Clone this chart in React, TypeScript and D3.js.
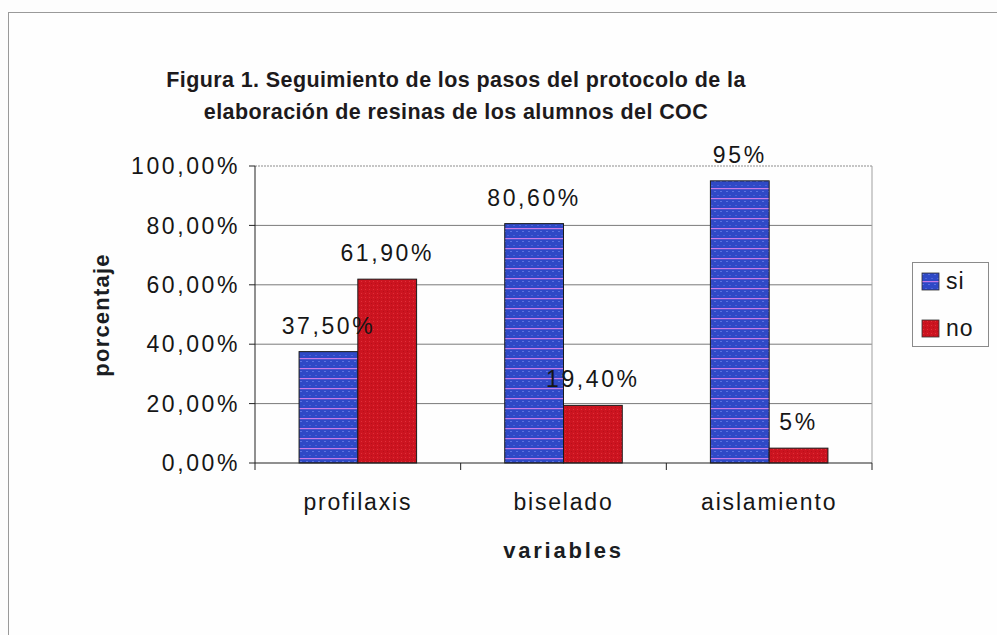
import React from 'react';
import * as d3 from 'd3';

// Chart data
const CATEGORIES = ['profilaxis', 'biselado', 'aislamiento'];
const SERIES = ['si', 'no'];
const SI_VALUES = [37.5, 80.6, 95];
const NO_VALUES = [61.9, 19.4, 5];
const SI_LABELS = ['37,50%', '80,60%', '95%'];
const NO_LABELS = ['61,90%', '19,40%', '5%'];
const Y_TICKS = [0, 20, 40, 60, 80, 100];

const TITLE_LINES = [
  'Figura 1. Seguimiento de los pasos del protocolo de la',
  'elaboración de resinas de los alumnos del COC'
];

const W = 997;
const H = 635;
const plot = { left: 255, right: 872, top: 166, bottom: 463 };

const FONT = '"Liberation Sans", Arial, sans-serif';
const TEXT = '#161616';

const App = () => {
  const x0 = d3.scaleBand()
    .domain(CATEGORIES)
    .range([plot.left, plot.right])
    .paddingInner(0)
    .paddingOuter(0);

  // Excel-like gap width of 150%: two bars + 1.5 bar widths of gap
  const barW = x0.bandwidth() / 3.5;
  const x1 = d3.scaleBand()
    .domain(SERIES)
    .range([barW * 0.75, barW * 2.75]);

  const y = d3.scaleLinear().domain([0, 100]).range([plot.bottom, plot.top]);

  const fmtTick = (d: number) => `${d.toFixed(2).replace('.', ',')}%`;

  const bars = CATEGORIES.flatMap((c, i) => [
    { cat: c, key: 'si', value: SI_VALUES[i], label: SI_LABELS[i] },
    { cat: c, key: 'no', value: NO_VALUES[i], label: NO_LABELS[i] }
  ]);

  const boundaries = [...CATEGORIES.map(c => x0(c) as number), plot.right];

  return (
    <div style={{ position: 'absolute', left: 0, top: 0 }}>
      <svg width={W} height={H} style={{ display: 'block', background: '#fdfdfd' }}>
        <defs>
          <pattern id="siFill" width="6" height="10" patternUnits="userSpaceOnUse">
            <rect width="6" height="10" fill="#2f49c6" />
            <rect x="0" y="1" width="2" height="1" fill="#5a72e0" />
            <rect x="3" y="5" width="2" height="1" fill="#4a62d8" />
            <rect x="0" y="8" width="6" height="1.2" fill="#c77be6" />
          </pattern>
          <pattern id="noFill" width="4" height="4" patternUnits="userSpaceOnUse">
            <rect width="4" height="4" fill="#cc1420" />
            <rect x="1" y="1" width="1" height="1" fill="#e0303a" />
            <rect x="3" y="3" width="1" height="1" fill="#b80f1a" />
          </pattern>
        </defs>

        {/* outer chart frame */}
        <rect x={8.5} y={12.5} width={W + 10} height={H + 10} fill="#fefefe" stroke="#9a9a9a" strokeWidth={1} />

        {/* title */}
        {TITLE_LINES.map((t, i) => (
          <text key={i} x={456} y={87 + i * 32} textAnchor="middle"
            fontFamily={FONT} fontWeight="bold" fontSize={21.5} letterSpacing={0.4} fill="#1d1a1c">
            {t}
          </text>
        ))}

        {/* gridlines */}
        {Y_TICKS.filter(t => t > 0 && t < 100).map(t => (
          <line key={t} x1={plot.left} x2={plot.right} y1={y(t)} y2={y(t)}
            stroke="#7a7a7a" strokeWidth={1} />
        ))}
        {/* plot area border top/right */}
        <line x1={plot.left} x2={plot.right} y1={y(100)} y2={y(100)}
          stroke="#8c8c8c" strokeWidth={1} strokeDasharray="2,1" />
        <line x1={plot.right} x2={plot.right} y1={plot.top} y2={plot.bottom}
          stroke="#a0a0a0" strokeWidth={1} />

        {/* bars */}
        {bars.map((b, i) => {
          const bx = (x0(b.cat) as number) + (x1(b.key) as number);
          return (
            <rect key={i} x={bx} y={y(b.value)} width={x1.bandwidth()}
              height={y(0) - y(b.value)}
              fill={b.key === 'si' ? 'url(#siFill)' : 'url(#noFill)'}
              stroke="#1a1a1a" strokeWidth={1} />
          );
        })}

        {/* data labels */}
        {bars.map((b, i) => {
          const cx = (x0(b.cat) as number) + (x1(b.key) as number) + x1.bandwidth() / 2;
          return (
            <text key={i} x={cx} y={y(b.value) - 18} textAnchor="middle"
              fontFamily={FONT} fontSize={23} letterSpacing={2.6} fill={TEXT}>
              {b.label}
            </text>
          );
        })}

        {/* y axis */}
        <line x1={plot.left} x2={plot.left} y1={plot.top} y2={plot.bottom} stroke="#222" strokeWidth={1} />
        {Y_TICKS.map(t => (
          <g key={t}>
            <line x1={plot.left - 6} x2={plot.left} y1={y(t)} y2={y(t)} stroke="#222" strokeWidth={1} />
            <text x={240} y={y(t)} dy="0.36em" textAnchor="end"
              fontFamily={FONT} fontSize={23} letterSpacing={2.6} fill={TEXT}>
              {fmtTick(t)}
            </text>
          </g>
        ))}

        {/* x axis */}
        <line x1={plot.left} x2={plot.right} y1={plot.bottom} y2={plot.bottom} stroke="#222" strokeWidth={1} />
        {boundaries.map((bx, i) => (
          <line key={i} x1={bx} x2={bx} y1={plot.bottom} y2={plot.bottom + 7} stroke="#222" strokeWidth={1} />
        ))}
        {CATEGORIES.map(c => (
          <text key={c} x={(x0(c) as number) + x0.bandwidth() / 2} y={510} textAnchor="middle"
            fontFamily={FONT} fontSize={23} letterSpacing={1.8} fill={TEXT}>
            {c}
          </text>
        ))}

        {/* axis titles */}
        <text x={(plot.left + plot.right) / 2} y={558} textAnchor="middle"
          fontFamily={FONT} fontWeight="bold" fontSize={22} letterSpacing={2.8} fill="#1a1d22">
          variables
        </text>
        <text transform={`translate(109, 315) rotate(-90)`} textAnchor="middle"
          fontFamily={FONT} fontWeight="bold" fontSize={22} letterSpacing={1.2} fill="#1a1d22">
          porcentaje
        </text>

        {/* legend */}
        <rect x={912.5} y={262.5} width={76} height={84} fill="#fefefe" stroke="#8a8a8a" strokeWidth={1} />
        {SERIES.map((s, i) => (
          <g key={s} transform={`translate(922, ${273 + i * 47})`}>
            <rect width={17} height={17} fill={s === 'si' ? 'url(#siFill)' : 'url(#noFill)'}
              stroke="#333" strokeWidth={0.8} />
            <text x={24} y={16} fontFamily={FONT} fontSize={23} letterSpacing={1} fill={TEXT}>{s}</text>
          </g>
        ))}
      </svg>
    </div>
  );
};

export default App;
